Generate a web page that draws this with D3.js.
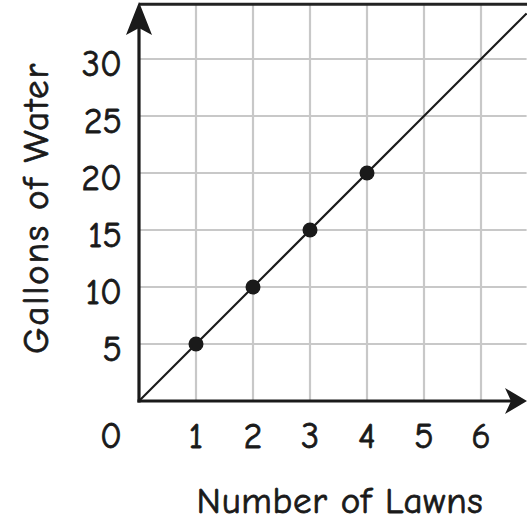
<!DOCTYPE html>
<html><head><meta charset="utf-8">
<script src="https://cdn.jsdelivr.net/npm/d3@7"></script>
<style>html,body{margin:0;padding:0;background:#fff;}svg{display:block;}</style>
</head><body>
<script>
const lawns = [1, 2, 3, 4];
const gallons = [5, 10, 15, 20];
const xTicks = [1, 2, 3, 4, 5, 6];
const yTicks = [5, 10, 15, 20, 25, 30];
const lineStart = [0, 0];
const lineEnd = [6.8, 34];

const W = 527, H = 524;
const svg = d3.select("body").append("svg").attr("width", W).attr("height", H);
const x = d3.scaleLinear().domain([0, 6.8]).range([139, 526.6]);
const y = d3.scaleLinear().domain([0, 34.8]).range([401, 4.3]);
const font = "'Comic Sans MS','Comic Neue','DejaVu Sans',sans-serif";
const grid = "#c8c8c8";
const ink = "#1a1a1a";

// grid
svg.append("g").selectAll("line").data(xTicks).join("line")
  .attr("x1", d => x(d)).attr("x2", d => x(d)).attr("y1", y(34.8)).attr("y2", y(0))
  .attr("stroke", grid).attr("stroke-width", 2.2);
svg.append("g").selectAll("line").data(yTicks).join("line")
  .attr("x1", x(0)).attr("x2", x(6.8)).attr("y1", d => y(d)).attr("y2", d => y(d))
  .attr("stroke", grid).attr("stroke-width", 2.2);
// top border
svg.append("line").attr("x1", x(0)).attr("x2", W).attr("y1", y(34.8)).attr("y2", y(34.8))
  .attr("stroke", "#222").attr("stroke-width", 3);

// data line
svg.append("line").attr("x1", x(lineStart[0])).attr("y1", y(lineStart[1]))
  .attr("x2", x(lineEnd[0])).attr("y2", y(lineEnd[1]))
  .attr("stroke", ink).attr("stroke-width", 2.2);

// axes
svg.append("line").attr("x1", x(0)).attr("x2", x(0)).attr("y1", y(0) + 1.5).attr("y2", 12)
  .attr("stroke", ink).attr("stroke-width", 3.2);
svg.append("line").attr("x1", x(0) - 1.5).attr("x2", W - 12).attr("y1", y(0)).attr("y2", y(0))
  .attr("stroke", ink).attr("stroke-width", 3.2);
// arrowheads
const ax = x(0), ay = y(0);
svg.append("path").attr("d", `M${ax},2 L${ax + 13},35 L${ax},28 L${ax - 13},35 Z`).attr("fill", ink);
svg.append("path").attr("d", `M${W},${ay} L${W - 22},${ay + 13} L${W - 16},${ay} L${W - 22},${ay - 13} Z`).attr("fill", ink);

// points
svg.append("g").selectAll("circle").data(lawns).join("circle")
  .attr("cx", d => x(d)).attr("cy", (d, i) => y(gallons[i])).attr("r", 7.5).attr("fill", ink);

// tick labels
const tickStyle = sel => sel.attr("font-family", font).attr("font-size", 36)
  .attr("fill", ink).attr("stroke", ink).attr("stroke-width", 0.8);
svg.append("g").selectAll("text").data(xTicks).join("text")
  .attr("x", d => x(d)).attr("y", 448).attr("text-anchor", "middle").call(tickStyle).text(d => d);
svg.append("g").selectAll("text").data(yTicks).join("text")
  .attr("x", 122).attr("y", d => y(d) + 17).attr("text-anchor", "end").call(tickStyle).text(d => d);
svg.append("text").attr("x", 111).attr("y", 448).attr("text-anchor", "middle").call(tickStyle).text("0");

// axis titles
const titleStyle = sel => sel.attr("font-family", font).attr("font-size", 37)
  .attr("fill", ink).attr("stroke", ink).attr("stroke-width", 0.8);
svg.append("text").attr("x", 340).attr("y", 513).attr("text-anchor", "middle")
  .attr("letter-spacing", 0.7).call(titleStyle).text("Number of Lawns");
svg.append("text").attr("transform", "translate(48,208) rotate(-90)").attr("text-anchor", "middle")
  .attr("letter-spacing", 1.8).call(titleStyle).text("Gallons of Water");
</script>
</body></html>
